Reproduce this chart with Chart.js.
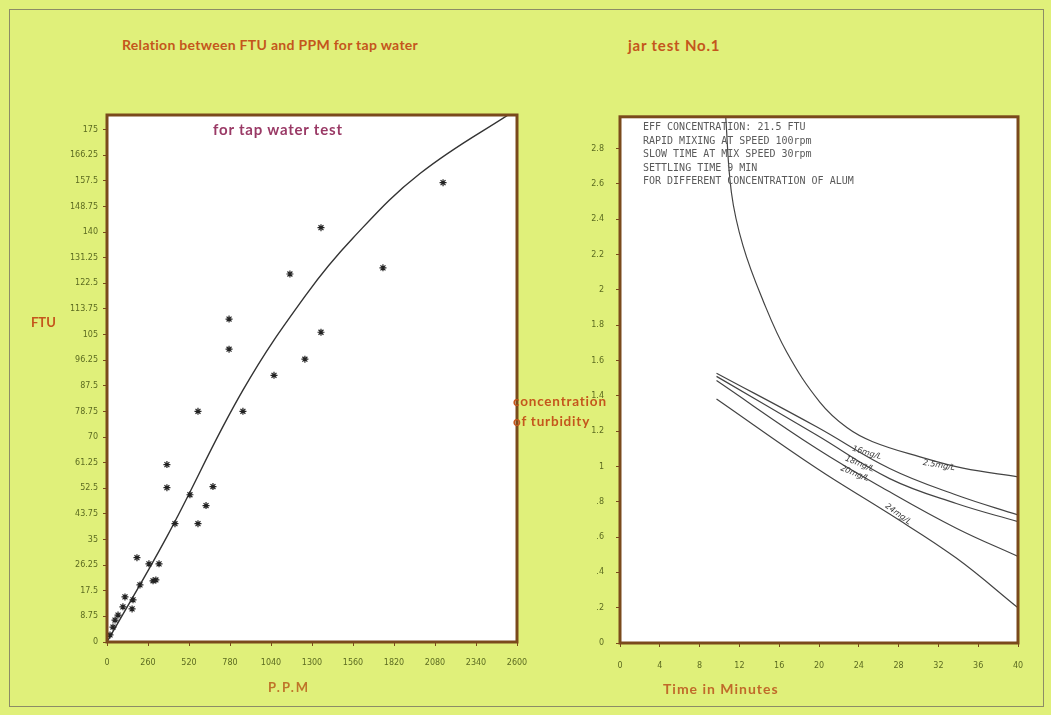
<!DOCTYPE html>
<html>
<head>
<meta charset="utf-8">
<script src="https://cdn.jsdelivr.net/npm/chart.js@4.4.0/dist/chart.umd.min.js"></script>
<style>
  body { margin: 0; width: 1051px; height: 715px; background: #e0f07a; position: relative; overflow: hidden; font-family: Lato, "Open Sans", sans-serif; }
  .edge { position: absolute; left: 9px; top: 9px; width: 1033px; height: 696px; border: 1px solid #8c8c66; }
  canvas { position: absolute; }
  .t { position: absolute; font-weight: bold; white-space: nowrap; color: #c4561c; }
  .note { position: absolute; left: 643px; top: 120px; font: 10px/13.5px "DejaVu Sans Mono", monospace; color: #5a5a5a; white-space: pre; letter-spacing: 0; }
</style>
</head>
<body>
<div class="edge"></div>
<canvas id="ftuChart" width="490" height="580" style="left:50px;top:100px"></canvas>
<canvas id="jarChart" width="490" height="580" style="left:550px;top:100px"></canvas>

<div class="t" style="left:122px;top:36px;font-size:14px;letter-spacing:0.3px">Relation between FTU and PPM for tap water</div>
<div class="t" style="left:628px;top:36px;font-size:15px;letter-spacing:0.8px">jar test No.1</div>
<div class="t" style="left:213px;top:120px;font-size:15px;letter-spacing:0.8px;color:#9a3a66">for tap water test</div>
<div class="t" style="left:31px;top:314px;font-size:13px">FTU</div>
<div class="t" style="left:268px;top:679px;font-size:13px;letter-spacing:2px;color:#bf7429">P.P.M</div>
<div class="t" style="left:513px;top:391px;font-size:13.5px;letter-spacing:0.8px;line-height:20px">concentration<br>of turbidity</div>
<div class="t" style="left:663px;top:680px;font-size:14px;letter-spacing:1px;color:#c06a2a">Time in Minutes</div>
<div class="note">EFF CONCENTRATION: 21.5 FTU
RAPID MIXING AT SPEED 100rpm
SLOW TIME AT MIX SPEED 30rpm
SETTLING TIME 9 MIN
FOR DIFFERENT CONCENTRATION OF ALUM</div>

<script>
// tap water: measured points
const ppmValues = [2131, 1357, 1160, 1750, 774, 774, 1357, 1255, 1059, 577, 862, 380, 380, 672, 526, 628, 431, 577,
  190, 266, 330, 292, 310, 209, 114, 165, 101, 159, 70, 51, 38, 19];
const ftuValues = [156.9, 141.5, 125.7, 127.8, 110.3, 100, 105.8, 96.6, 91.1, 78.8, 78.8, 60.6, 52.7, 53.1, 50.3, 46.6, 40.4, 40.4,
  28.8, 26.7, 26.7, 20.9, 21.2, 19.5, 15.4, 14.4, 12, 11.3, 9.2, 7.5, 5.1, 2.4];
// hand drawn fit curve
const fitPpm = [0, 380, 862, 1268, 1560, 1985, 2600];
const fitFtu = [0, 36, 86, 119, 138, 160, 182];
const ftuTicks = [0, 8.75, 17.5, 26.25, 35, 43.75, 52.5, 61.25, 70, 78.75, 87.5, 96.25, 105, 113.75, 122.5, 131.25, 140, 148.75, 157.5, 166.25, 175];
const ppmTicks = [0, 260, 520, 780, 1040, 1300, 1560, 1820, 2080, 2340, 2600];

// jar test No.1
const timeTicks = [0, 4, 8, 12, 16, 20, 24, 28, 32, 36, 40];
const turbTicks = [0, 0.2, 0.4, 0.6, 0.8, 1, 1.2, 1.4, 1.6, 1.8, 2, 2.2, 2.4, 2.6, 2.8];
const turbTickLabels = ['0', '.2', '.4', '.6', '.8', '1', '1.2', '1.4', '1.6', '1.8', '2', '2.2', '2.4', '2.6', '2.8'];
const topTime = [10.6, 11.2, 12.36, 14.37, 16.78, 20.1, 22.8, 25.4, 30.15, 34.47, 40];
const topTurb = [3.0, 2.55, 2.25, 1.94, 1.645, 1.363, 1.22, 1.14, 1.054, 0.99, 0.941];
const bundleTime = [9.7, 19.8, 27.1, 33.8, 40];
const turb16 = [1.528, 1.223, 0.988, 0.838, 0.725];
const turb18 = [1.510, 1.176, 0.931, 0.790, 0.687];
const turb20 = [1.486, 1.100, 0.856, 0.650, 0.490];
const turb24 = [1.382, 0.988, 0.73, 0.481, 0.199];

const pts = (xs, ys) => xs.map((x, i) => ({ x: x, y: ys[i] }));
const brown = '#7a4a1c';
const tickFont = { family: 'DejaVu Sans', size: 8 };
const tickColor = '#5b6a20';

// white plot area with brown frame
const framePlugin = {
  id: 'frame',
  beforeDraw(chart) {
    const a = chart.chartArea, ctx = chart.ctx;
    ctx.save();
    ctx.fillStyle = '#ffffff';
    ctx.fillRect(a.left, a.top, a.right - a.left, a.bottom - a.top);
    ctx.restore();
  },
  afterDraw(chart) {
    const a = chart.chartArea, ctx = chart.ctx;
    ctx.save();
    ctx.strokeStyle = brown;
    ctx.lineWidth = 3;
    ctx.strokeRect(a.left, a.top, a.right - a.left, a.bottom - a.top);
    ctx.restore();
  }
};

const curveLabels = {
  id: 'curveLabels',
  afterDatasetsDraw(chart, args, opts) {
    if (!opts.items) return;
    const ctx = chart.ctx, xs = chart.scales.x, ys = chart.scales.y;
    ctx.save();
    ctx.font = 'italic 8px "DejaVu Sans"';
    ctx.fillStyle = '#3a3a3a';
    opts.items.forEach(it => {
      ctx.save();
      ctx.translate(xs.getPixelForValue(it.t), ys.getPixelForValue(it.v));
      ctx.rotate(it.angle * Math.PI / 180);
      ctx.fillText(it.text, 0, 0);
      ctx.restore();
    });
    ctx.restore();
  }
};

function axis(min, max, values, labelFn, size, pad) {
  return {
    type: 'linear', min: min, max: max,
    afterBuildTicks: s => { s.ticks = values.map(v => ({ value: v })); },
    afterFit: s => { if (s.isHorizontal()) s.height = size; else s.width = size; },
    grid: { drawOnChartArea: false, drawTicks: true, tickLength: 4, color: brown, lineWidth: 1 },
    border: { display: false },
    ticks: { font: tickFont, color: tickColor, padding: pad, maxRotation: 0, autoSkip: false, callback: labelFn }
  };
}

new Chart(document.getElementById('ftuChart'), {
  type: 'scatter',
  data: {
    datasets: [
      {
        data: pts(ppmValues, ftuValues),
        pointStyle: 'star', pointRadius: 3.5, borderColor: '#222', borderWidth: 1.2, backgroundColor: '#222'
      },
      {
        type: 'line', data: pts(fitPpm, fitFtu), showLine: true, pointRadius: 0,
        borderColor: '#333', borderWidth: 1.4, tension: 0.4, fill: false
      }
    ]
  },
  options: {
    responsive: false, animation: false,
    layout: { padding: { top: 15, right: 23, left: 0, bottom: 0 } },
    plugins: { legend: { display: false }, tooltip: { enabled: false } },
    scales: {
      x: axis(0, 2600, ppmTicks, v => String(v), 38, 12),
      y: axis(0, 180, ftuTicks, v => String(v), 57, 5)
    }
  },
  plugins: [framePlugin]
});

const lineStyle = { pointRadius: 0, borderColor: '#444', borderWidth: 1.2, tension: 0.4, fill: false };

new Chart(document.getElementById('jarChart'), {
  type: 'line',
  data: {
    datasets: [
      Object.assign({ data: pts(topTime, topTurb) }, lineStyle),
      Object.assign({ data: pts(bundleTime, turb16) }, lineStyle),
      Object.assign({ data: pts(bundleTime, turb18) }, lineStyle),
      Object.assign({ data: pts(bundleTime, turb20) }, lineStyle),
      Object.assign({ data: pts(bundleTime, turb24) }, lineStyle)
    ]
  },
  options: {
    responsive: false, animation: false,
    layout: { padding: { top: 12, right: 22, left: 0, bottom: 0 } },
    plugins: {
      legend: { display: false }, tooltip: { enabled: false },
      curveLabels: {
        items: [
          { text: '2.5mg/L', t: 30.4, v: 1.01, angle: 10 },
          { text: '16mg/L', t: 23.3, v: 1.09, angle: 17 },
          { text: '18mg/L', t: 22.6, v: 1.035, angle: 22 },
          { text: '20mg/L', t: 22.1, v: 0.98, angle: 22 },
          { text: '24mg/L', t: 26.6, v: 0.77, angle: 36 }
        ]
      }
    },
    scales: {
      x: axis(0, 40, timeTicks, v => String(v), 37, 14),
      y: axis(0, 2.98, turbTicks, v => turbTickLabels[turbTicks.indexOf(v)] || '', 70, 12)
    }
  },
  plugins: [framePlugin, curveLabels]
});
</script>
</body>
</html>
